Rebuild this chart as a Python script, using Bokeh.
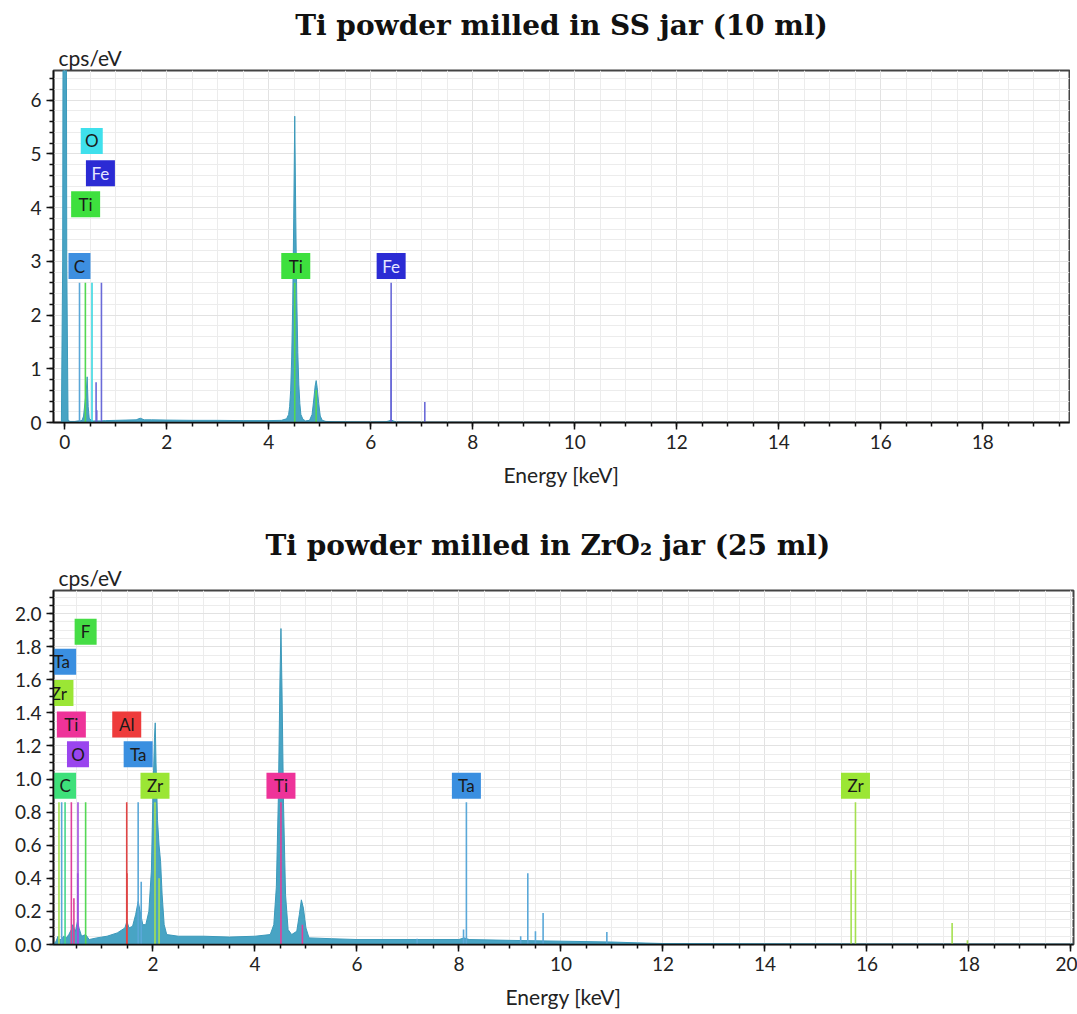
from bokeh.plotting import figure
from bokeh.models import SingleIntervalTicker, Range1d, Title, ColumnDataSource, PrintfTickFormatter
from bokeh.layouts import column
from bokeh.embed import file_html
from bokeh.resources import INLINE
from bokeh.core.properties import value

# ---------------- Top chart: Ti powder milled in SS jar (10 ml) ----------------
ss_title = "Ti powder milled in SS jar (10 ml)"
ss_energy = [-0.22, -0.065, -0.04, -0.03, 0.0, 0.03, 0.04, 0.065, 0.10, 0.20, 0.26, 0.30,
             0.34, 0.37, 0.40, 0.42, 0.44, 0.46, 0.48, 0.52, 0.56, 0.62, 0.70, 0.80, 1.00,
             1.20, 1.40, 1.48, 1.56, 1.70, 2.00, 2.50, 3.00, 3.50, 4.00, 4.25, 4.35, 4.39,
             4.41, 4.43, 4.45, 4.47, 4.49, 4.51, 4.53, 4.55, 4.57, 4.59, 4.61, 4.63, 4.67,
             4.72, 4.80, 4.85, 4.88, 4.91, 4.93, 4.95, 4.98, 5.01, 5.05, 5.12, 5.30, 5.60,
             6.00, 6.30, 6.36, 6.40, 6.44, 6.50, 7.00, 8.00, 10.0, 12.0, 15.0, 19.7]
ss_cps = [0.0, 0.0, 3.0, 9.0, 10.0, 9.0, 3.0, 0.05, 0.02, 0.02, 0.03, 0.03,
          0.04, 0.12, 0.40, 0.55, 0.85, 0.30, 0.08, 0.04, 0.03, 0.03, 0.03, 0.035, 0.04,
          0.045, 0.05, 0.08, 0.05, 0.05, 0.045, 0.04, 0.04, 0.035, 0.035, 0.04, 0.07, 0.15,
          0.30, 0.60, 1.20, 2.20, 3.80, 5.70, 3.80, 2.30, 1.30, 0.70, 0.35, 0.15, 0.06,
          0.03, 0.04, 0.15, 0.40, 0.68, 0.78, 0.65, 0.35, 0.12, 0.04, 0.02, 0.015, 0.012,
          0.01, 0.015, 0.03, 0.05, 0.03, 0.01, 0.006, 0.004, 0.003, 0.002, 0.001, 0.0]
ss_line_energy = [0.29, 0.405, 0.535, 0.72, 0.615, 0.628, 4.51, 4.93, 6.40, 6.40, 7.06]
ss_line_height = [2.6, 2.6, 2.6, 2.6, 0.75, 0.23, 2.6, 0.6, 2.6, 1.35, 0.38]
ss_line_elem = ["C", "Ti", "O", "Fe", "Fe", "Fe", "Ti", "Ti", "Fe", "Fe", "Fe"]
ss_label_text = ["O", "Fe", "Ti", "C", "Ti", "Fe"]
ss_label_energy = [0.53, 0.70, 0.41, 0.29, 4.53, 6.40]
ss_label_level = [5.24, 4.64, 4.06, 2.91, 2.91, 2.91]
ss_colors = {"C": "#3d8fe0", "Ti": "#3ee03e", "O": "#3fe0ec", "Fe": "#2b2bd4"}
ss_line_colors = {"C": "#5aa7d8", "Ti": "#52d852", "O": "#3ad7e0", "Fe": "#6a6ad8"}

# ---------------- Bottom chart: Ti powder milled in ZrO2 jar (25 ml) ----------------
zr_title = "Ti powder milled in ZrO\u2082 jar (25 ml)"
zr_energy = [0.05, 0.10, 0.14, 0.16, 0.20, 0.25, 0.30, 0.35, 0.40, 0.43, 0.45, 0.48, 0.52,
             0.55, 0.60, 0.68, 0.75, 0.90, 1.10, 1.30, 1.45, 1.49, 1.53, 1.60, 1.66, 1.71,
             1.75, 1.80, 1.86, 1.92, 1.97, 2.00, 2.03, 2.045, 2.06, 2.09, 2.12, 2.15, 2.18,
             2.22, 2.27, 2.50, 3.00, 3.50, 4.00, 4.30, 4.37, 4.42, 4.46, 4.49, 4.51, 4.53,
             4.56, 4.60, 4.65, 4.72, 4.82, 4.87, 4.91, 4.95, 5.00, 5.06, 5.50, 6.00, 7.00,
             8.00, 8.10, 8.20, 9.00, 10.0, 11.0, 11.5, 12.0, 14.0, 16.0, 20.05]
zr_cps = [0.0, 0.02, 0.05, 0.03, 0.03, 0.05, 0.04, 0.06, 0.09, 0.12, 0.10, 0.08, 0.14,
          0.10, 0.05, 0.06, 0.03, 0.04, 0.05, 0.07, 0.10, 0.14, 0.10, 0.11, 0.18, 0.26,
          0.20, 0.12, 0.12, 0.20, 0.45, 0.90, 1.25, 1.34, 1.10, 0.75, 0.60, 0.50, 0.30,
          0.12, 0.06, 0.05, 0.05, 0.045, 0.05, 0.06, 0.12, 0.35, 0.90, 1.60, 1.91, 1.55,
          0.85, 0.30, 0.09, 0.06, 0.08, 0.18, 0.27, 0.22, 0.10, 0.04, 0.035, 0.03, 0.03,
          0.03, 0.04, 0.03, 0.025, 0.02, 0.015, 0.01, 0.006, 0.004, 0.003, 0.002]
zr_line_energy = [0.157, 0.21, 0.277, 0.40, 0.45, 0.53, 0.525, 0.68, 1.486, 1.49, 1.71, 1.77,
                  2.04, 2.12, 4.51, 4.93, 7.18, 8.09, 8.146, 9.21, 9.35, 9.50, 9.65, 10.9,
                  15.69, 15.775, 17.67, 17.97]
zr_line_height = [0.86, 0.86, 0.86, 0.86, 0.28, 0.86, 0.43, 0.86, 0.86, 0.43, 0.86, 0.38,
                  0.86, 0.40, 0.86, 0.12, 0.035, 0.09, 0.86, 0.05, 0.43, 0.08, 0.19, 0.075,
                  0.45, 0.86, 0.13, 0.025]
zr_line_elem = ["Zr", "Ta", "C", "Ti", "Ti", "O", "O", "F", "Al", "Al", "Ta", "Ta",
                "Zr", "Zr", "Ti", "Ti", "Ta", "Ta", "Ta", "Ta", "Ta", "Ta", "Ta", "Ta",
                "Zr", "Zr", "Zr", "Zr"]
zr_label_text = ["F", "Ta", "Zr", "Ti", "O", "C", "Al", "Ta", "Zr", "Ti", "Ta", "Zr"]
zr_label_energy = [0.68, 0.21, 0.157, 0.40, 0.53, 0.277, 1.486, 1.71, 2.04, 4.51, 8.146, 15.775]
zr_label_level = [1.89, 1.71, 1.52, 1.33, 1.15, 0.96, 1.33, 1.15, 0.96, 0.96, 0.96, 0.96]
zr_colors = {"F": "#45dd45", "Ta": "#3a8fe0", "Zr": "#9be635", "Ti": "#ee3399",
             "O": "#9a45ee", "C": "#3ee07a", "Al": "#ee3b3b"}
zr_line_colors = {"F": "#55d855", "Ta": "#5aa8d8", "Zr": "#a5e050", "Ti": "#e0409a",
                  "O": "#a050e0", "C": "#45d88a", "Al": "#e04545"}

SPEC_FILL = "#48a4c4"
SPEC_LINE = "#3c99ba"


def make_fig(title, energy, cps, l_e, l_h, l_el, lab_t, lab_e, lab_lv, colors, lcolors,
             xr, yr, yint, yminor, yfmt, fw, fh, left, top, bottom, title_align, title_offset):
    p = figure(frame_width=fw, frame_height=fh, x_range=Range1d(*xr), y_range=Range1d(*yr),
               output_backend="svg", toolbar_location=None,
               min_border_left=left, min_border_right=4, min_border_top=top,
               min_border_bottom=bottom)
    p.background_fill_color = "white"
    p.border_fill_color = "white"
    p.outline_line_color = "#444444"
    p.outline_line_width = 2

    p.add_layout(Title(text="cps/eV", align="left", offset=5, text_font="Lato",
                       text_font_size="21px", text_font_style="normal",
                       text_color="#222222", standoff=1), "above")
    p.add_layout(Title(text=title, align=title_align, text_font="DejaVu Serif",
                       text_font_size="28px", text_font_style="bold",
                       text_color="#111111", offset=title_offset, standoff=2), "above")

    p.xaxis.ticker = SingleIntervalTicker(interval=2, num_minor_ticks=4)
    p.yaxis.ticker = SingleIntervalTicker(interval=yint, num_minor_ticks=yminor)
    if yfmt:
        p.yaxis.formatter = PrintfTickFormatter(format=yfmt)
    for ax in (p.xaxis, p.yaxis):
        ax.axis_line_color = "#111111"
        ax.axis_line_width = 1.5
        ax.major_tick_line_color = "#111111"
        ax.minor_tick_line_color = "#111111"
        ax.major_tick_line_width = 1.5
        ax.minor_tick_line_width = 1.5
        ax.major_tick_in = 0
        ax.minor_tick_in = 0
        ax.major_tick_out = 7
        ax.minor_tick_out = 4
        ax.major_label_text_font = "Lato"
        ax.major_label_text_font_size = "19px"
        ax.major_label_text_color = "#222222"
    p.xaxis.major_label_standoff = 5
    p.yaxis.major_label_standoff = 5
    p.xaxis.axis_label = "Energy [keV]"
    p.xaxis.axis_label_text_font = "Lato"
    p.xaxis.axis_label_text_font_size = "21px"
    p.xaxis.axis_label_text_font_style = "normal"
    p.xaxis.axis_label_text_color = "#222222"
    p.xaxis.axis_label_standoff = 10

    p.xgrid.grid_line_color = "#e2e2e2"
    p.ygrid.grid_line_color = "#e2e2e2"
    p.xgrid.minor_grid_line_color = "#ececec"
    p.ygrid.minor_grid_line_color = "#ececec"

    p.varea(x=energy, y1=0, y2=cps, fill_color=SPEC_FILL)
    p.line(x=energy, y=cps, line_color=SPEC_LINE, line_width=1)

    lsrc = ColumnDataSource(dict(e=l_e, h=l_h, z=[0] * len(l_e),
                                 c=[lcolors[el] for el in l_el]))
    p.segment(x0="e", y0="z", x1="e", y1="h", line_color="c", line_width=1.6, source=lsrc)

    tcol = ["#e6e6ff" if (t == "Fe") else "#1a1a1a" for t in lab_t]
    bsrc = ColumnDataSource(dict(e=lab_e, lv=lab_lv, t=lab_t,
                                 w=[15 + 7 * len(t) for t in lab_t],
                                 c=[colors[t] for t in lab_t], tc=tcol))
    p.rect(x="e", y="lv", width="w", height=26, width_units="screen", height_units="screen",
           fill_color="c", line_color=None, source=bsrc)
    p.text(x="e", y="lv", text="t", text_align="center", text_baseline="middle",
           text_font=value("Lato"), text_font_size="17px", text_color="tc", source=bsrc)
    return p


p1 = make_fig(ss_title, ss_energy, ss_cps, ss_line_energy, ss_line_height, ss_line_elem,
              ss_label_text, ss_label_energy, ss_label_level, ss_colors, ss_line_colors,
              (-0.22, 19.7), (0, 6.55), 1, 5, None, 1016, 352, 50, 70, 76, "center", 0)
p2 = make_fig(zr_title, zr_energy, zr_cps, zr_line_energy, zr_line_height, zr_line_elem,
              zr_label_text, zr_label_energy, zr_label_level, zr_colors, zr_line_colors,
              (0.05, 20.05), (0, 2.14), 0.2, 4, "%.1f", 1020, 354, 53, 92, 60, "left", 212)

layout = column(p1, p2, spacing=0)
open("out.html", "w").write(file_html(layout, INLINE))
